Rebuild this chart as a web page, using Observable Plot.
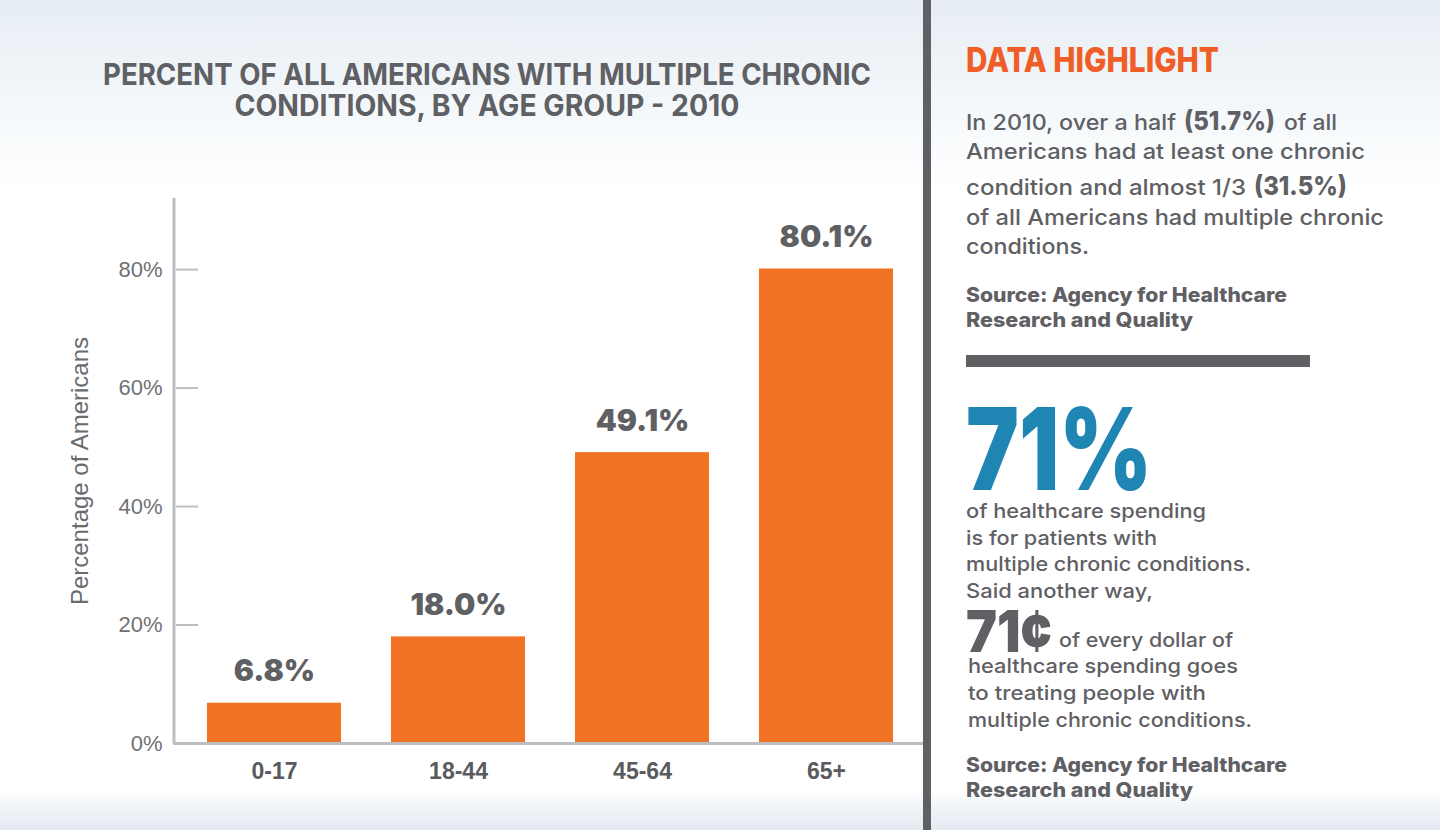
<!DOCTYPE html>
<html><head><meta charset="utf-8">
<script src="https://cdn.jsdelivr.net/npm/d3@7"></script>
<script src="https://cdn.jsdelivr.net/npm/@observablehq/plot@0.6"></script>
<style>
html,body{margin:0;padding:0;}
body{width:1440px;height:830px;position:relative;overflow:hidden;
background:linear-gradient(to bottom,#e6edf3 0px,#f3f7fa 100px,#ffffff 190px,#ffffff 790px,#eef3f7 810px,#e3eaf1 830px);}
#chart{position:absolute;left:0;top:0;}
#overlay{position:absolute;left:0;top:0;}
</style></head><body>
<div id="chart"></div>
<svg id="overlay" width="1440" height="830"></svg>
<script>
// ---- chart data ----
const ageGroups = ["0-17", "18-44", "45-64", "65+"];
const percentMCC = [6.8, 18.0, 49.1, 80.1];
const valueLabels = ["6.8%", "18.0%", "49.1%", "80.1%"];
const yTicks = [0, 20, 40, 60, 80];
const yTickLabels = ["0%", "20%", "40%", "60%", "80%"];
const yAxisTitle = "Percentage of Americans";
const titleLines = ["PERCENT OF ALL AMERICANS WITH MULTIPLE CHRONIC", "CONDITIONS, BY AGE GROUP - 2010"];

const data = ageGroups.map((g, i) => ({group: g, value: percentMCC[i], label: valueLabels[i]}));

const W = 930, H = 830, ML = 174, MR = 4, MT = 198, MB = 87;
const axisGray = "#bcbec0";
const textGray = "#5f6064";

const chart = Plot.plot({
  width: W, height: H,
  marginTop: MT, marginBottom: MB, marginLeft: ML, marginRight: MR,
  style: {background: "transparent", overflow: "visible"},
  x: {domain: ageGroups, paddingInner: 0.27, paddingOuter: 0.1676, axis: null},
  y: {domain: [0, 92], axis: null},
  marks: [
    Plot.barY(data, {x: "group", y: "value", fill: "#f27224"}),
    Plot.ruleY(yTicks.filter(d => d > 0), {stroke: axisGray, strokeWidth: 2, insetLeft: 2, insetRight: (W - ML - MR) - 24}),
    Plot.ruleY([0], {stroke: axisGray, strokeWidth: 3}),
    (index, scales, values, dims) => {
      const l = document.createElementNS("http://www.w3.org/2000/svg", "line");
      l.setAttribute("x1", dims.marginLeft); l.setAttribute("x2", dims.marginLeft);
      l.setAttribute("y1", scales.y(92)); l.setAttribute("y2", scales.y(0) + 1.5);
      l.setAttribute("stroke", axisGray); l.setAttribute("stroke-width", 3);
      return l;
    },
    Plot.text(yTicks, {y: d => d, frameAnchor: "left", dx: -12, textAnchor: "end", lineAnchor: "middle",
      text: d => yTickLabels[yTicks.indexOf(d)], fontSize: 22, fontFamily: "Liberation Sans, Arial, sans-serif", fill: "#707174"}),
    Plot.text([yAxisTitle], {frameAnchor: "left", dx: -94, rotate: -90, textAnchor: "middle", lineAnchor: "middle",
      text: d => d, fontSize: 24, fontFamily: "Liberation Sans, Arial, sans-serif", fill: "#6a6b6e"}),
    Plot.text(data, {x: "group", frameAnchor: "bottom", dy: 28, lineAnchor: "middle", text: "group",
      fontSize: 23, fontWeight: "bold", fontFamily: "Liberation Sans, Arial, sans-serif", fill: "#5a5b5e"}),
    Plot.text(data, {x: "group", y: "value", text: "label", dy: -22, lineAnchor: "bottom",
      fontSize: 30, fontWeight: 900, fontFamily: "Inter, sans-serif", fill: textGray})
  ]
});
document.getElementById("chart").appendChild(chart);

// ---- annotation panel ----
const svg = d3.select("#overlay");
svg.append("rect").attr("x", 923).attr("y", 0).attr("width", 8).attr("height", 830).attr("fill", "#5f6063");

function txt(x, y, s, o) {
  const t = svg.append("text").attr("x", x).attr("y", y).text(s)
    .attr("font-family", o.family || "Inter, sans-serif")
    .attr("font-size", o.size).attr("font-weight", o.weight || 500)
    .attr("fill", o.fill || textGray);
  if (o.anchor) t.attr("text-anchor", o.anchor);
  if (o.len) t.attr("textLength", o.len).attr("lengthAdjust", "spacingAndGlyphs");
  return t;
}

// title
txt(487, 85, titleLines[0], {size: 30, weight: 700, len: 768, anchor: "middle"});
txt(487, 116, titleLines[1], {size: 30, weight: 700, len: 505, anchor: "middle"});

// right panel
txt(966, 72, "DATA HIGHLIGHT", {size: 34, weight: 800, fill: "#f05d26", len: 253});

const p1 = [
  {x: 966, y: 130, s: "In 2010, over a half", w: 500, size: 22, end: 1176},
  {x: 1184, y: 130, s: "(51.7%)", w: 800, size: 26, end: 1275},
  {x: 1284, y: 130, s: "of all", w: 500, size: 22, end: 1337},
  {x: 966, y: 159, s: "Americans had at least one chronic", w: 500, size: 22, end: 1365},
  {x: 966, y: 195, s: "condition and almost 1/3", w: 500, size: 22, end: 1246},
  {x: 1254, y: 195, s: "(31.5%)", w: 800, size: 26, end: 1347},
  {x: 966, y: 225, s: "of all Americans had multiple chronic", w: 500, size: 22, end: 1384},
  {x: 966, y: 254, s: "conditions.", w: 500, size: 22, end: 1089},
  {x: 966, y: 302, s: "Source: Agency for Healthcare", w: 800, size: 20, end: 1287},
  {x: 966, y: 327, s: "Research and Quality", w: 800, size: 20, end: 1193}
];
p1.forEach(d => txt(d.x, d.y, d.s, {size: d.size, weight: d.w, len: d.end - d.x}));

svg.append("rect").attr("x", 966).attr("y", 355).attr("width", 344).attr("height", 12).attr("fill", "#5f6063");

txt(966, 490, "71%", {size: 114, weight: 900, fill: "#1f86b4", len: 186});
const p2 = [
  {x: 966, y: 518, s: "of healthcare spending", end: 1206},
  {x: 966, y: 545, s: "is for patients with", end: 1157},
  {x: 966, y: 571, s: "multiple chronic conditions.", end: 1251},
  {x: 966, y: 598, s: "Said another way,", end: 1153},
  {x: 1059, y: 647, s: "of every dollar of", end: 1233},
  {x: 968, y: 673, s: "healthcare spending goes", end: 1238},
  {x: 968, y: 700, s: "to treating people with", end: 1206},
  {x: 968, y: 727, s: "multiple chronic conditions.", end: 1252}
];
p2.forEach(d => txt(d.x, d.y, d.s, {size: 20, weight: 500, len: d.end - d.x}));
txt(966, 652, "71¢", {size: 58, weight: 900, len: 86});
txt(966, 772, "Source: Agency for Healthcare", {size: 20, weight: 800, len: 321});
txt(966, 797, "Research and Quality", {size: 20, weight: 800, len: 227});
</script>
</body></html>
